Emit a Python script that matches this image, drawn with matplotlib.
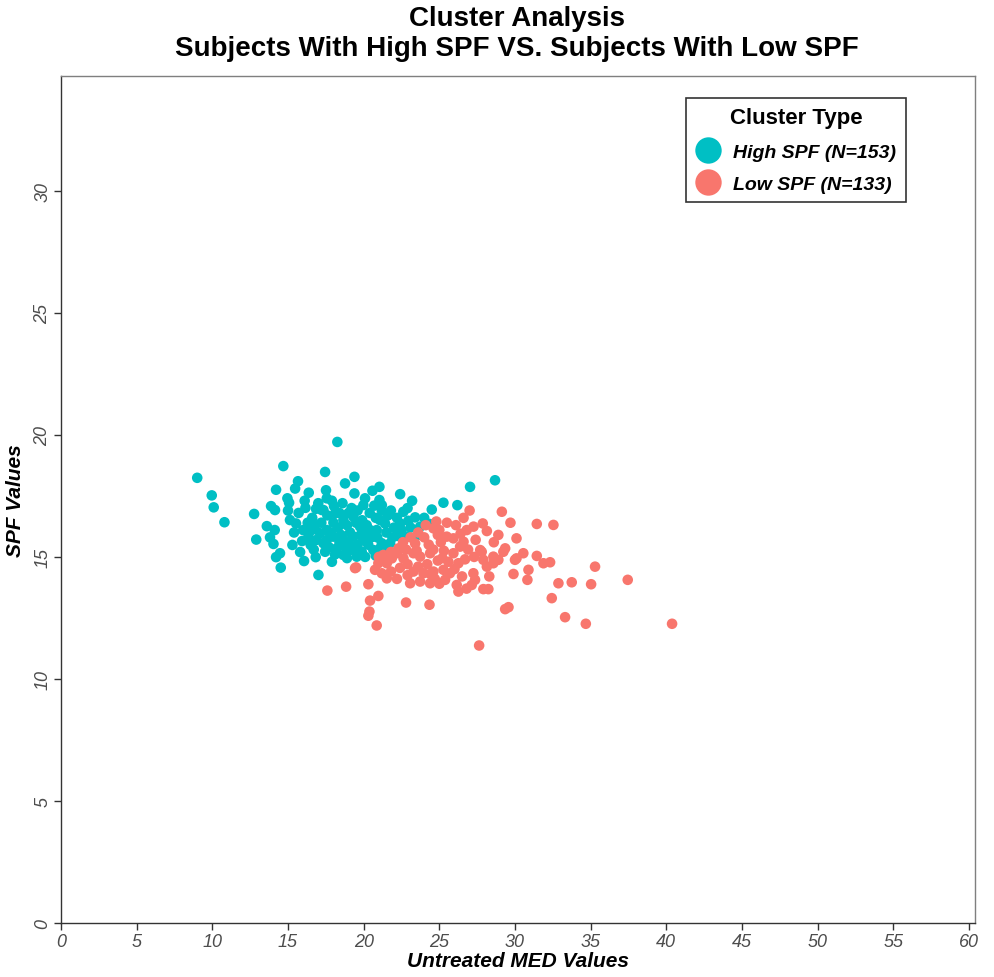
import matplotlib
matplotlib.use("Agg")
import matplotlib.pyplot as plt
from matplotlib.lines import Line2D

plt.rcParams['font.family'] = ['Liberation Sans', 'DejaVu Sans']

# cluster data (MED, SPF)
high_med = [9.0, 9.96, 10.09, 10.8, 14.69, 17.45, 14.21, 15.66, 15.47, 16.37,
            17.51, 17.56, 14.96, 15.07, 13.88, 14.14, 12.76, 16.15, 16.85, 17.34,
            15.13, 15.53, 13.6, 14.12, 13.81, 12.9, 14.04, 15.29, 16.24, 16.57,
            16.35, 15.93, 16.5, 17.12, 17.56, 14.47, 14.21, 16.83, 16.06, 14.52,
            17.01, 18.26, 19.39, 18.77, 19.39, 21.04, 20.58, 20.09, 22.41, 21.04,
            21.2, 19.98, 18.04, 25.27, 24.5, 22.62, 23.4, 22.95, 23.73, 24.35,
            22.41, 21.08, 21.41, 19.76, 19.32, 18.66, 18.11, 17.23, 20.42, 20.86,
            22.19, 22.85, 21.75, 21.2, 19.98, 19.32, 18.66, 17.99, 17.56, 17.34,
            18.22, 19.1, 19.87, 20.64, 21.08, 17.45, 18.66, 19.54, 27.03, 28.68,
            26.19,
            18.3, 18.5, 18.9, 19.1, 19.5, 19.8, 20.2, 20.5, 20.8, 21.5,
            18.0, 17.8, 17.7, 18.4, 19.0, 19.6, 20.3, 20.9, 21.6, 22.0,
            17.2, 16.8, 16.9, 16.6, 17.9, 18.6, 19.2, 19.6, 20.4, 20.7,
            21.8, 22.2, 23.1, 23.6, 22.5, 18.1, 18.9, 19.4, 20.1, 20.8,
            21.4, 16.3, 16.0, 15.7, 16.1, 15.0, 17.0, 18.4, 19.0, 19.9,
            21.2, 17.6, 18.8, 20.0, 21.9, 15.8, 15.4, 16.7, 22.9, 24.0,
            23.2, 17.9]
high_spf = [18.24, 17.52, 17.03, 16.42, 18.72, 18.48, 17.75, 18.1, 17.8, 17.63,
            17.73, 17.4, 17.4, 17.22, 17.08, 16.92, 16.76, 17.01, 16.97, 16.92,
            16.51, 16.37, 16.26, 16.1, 15.8, 15.71, 15.53, 15.49, 16.17, 16.1,
            15.83, 15.65, 15.49, 15.97, 15.69, 15.15, 14.99, 14.99, 14.83, 14.56,
            14.26, 19.71, 18.28, 18.01, 17.6, 17.87, 17.71, 17.4, 17.57, 17.33,
            17.12, 17.12, 17.08, 17.22, 16.94, 16.85, 16.62, 16.48, 16.24, 16.35,
            16.37, 16.51, 16.37, 16.24, 16.65, 16.51, 16.78, 16.92, 16.1, 16.1,
            15.86, 15.83, 15.56, 15.56, 15.69, 15.83, 15.69, 15.83, 16.1, 15.56,
            15.35, 15.28, 15.21, 15.28, 15.35, 15.21, 15.08, 15.01, 17.87, 18.14,
            17.12,
            16.2, 15.9, 16.3, 16.0, 16.4, 15.9, 16.3, 15.8, 16.6, 16.0,
            16.4, 16.0, 15.4, 15.6, 15.6, 15.5, 15.5, 15.8, 16.7, 16.2,
            16.4, 16.3, 15.7, 16.6, 17.3, 17.2, 17.0, 16.9, 16.8, 17.1,
            16.9, 16.6, 16.2, 15.9, 16.1, 15.1, 14.95, 15.3, 15.0, 15.05,
            15.25, 16.4, 16.1, 16.8, 17.3, 16.9, 17.2, 16.8, 16.8, 16.5,
            16.9, 16.7, 15.4, 16.0, 15.8, 15.2, 16.0, 15.3, 17.0, 16.6,
            17.3, 14.8]

low_med = [29.13, 31.44, 32.54, 26.6, 27.87, 28.14, 27.26, 26.81, 25.49, 25.93,
           26.6, 26.37, 30.1, 29.35, 27.7, 30.55, 31.44, 25.93, 27.8, 28.57,
           29.23, 30.0, 31.88, 32.32, 35.29, 30.89, 30.82, 32.87, 33.75, 35.03,
           37.45, 32.43, 33.31, 34.68, 40.38, 29.35, 29.57, 27.63, 27.25, 27.36,
           27.14, 27.91, 28.24, 26.15, 26.26, 25.27, 25.7, 25.38, 27.91, 28.14,
           28.57, 28.9, 26.26, 17.6, 18.84, 19.43, 20.31, 20.97, 20.42, 20.38,
           20.31, 20.86, 22.8, 24.35, 23.07, 23.73, 24.39, 23.29, 23.95, 24.61,
           20.75, 21.2, 21.53, 20.97, 21.53, 21.86, 21.3, 22.19, 22.63, 23.29,
           23.73, 24.39, 30.1, 24.61,
           24.0, 24.9, 23.4, 24.3, 25.1, 22.8, 22.3, 21.8, 23.5, 24.6,
           25.3, 25.0, 24.1, 23.6, 24.9, 25.2, 24.2, 25.6, 26.0, 24.7,
           25.0, 24.4, 23.6, 22.9, 22.4, 21.8, 22.2, 22.9, 26.7, 26.9,
           27.3, 26.4, 26.1, 25.5, 27.0, 26.5, 26.8, 28.6, 28.9, 29.7,
           27.4, 21.4, 22.6, 23.1, 24.8, 29.9, 28.3, 21.0, 19.5]
low_spf = [16.85, 16.35, 16.31, 16.6, 16.37, 16.06, 16.24, 16.1, 15.83, 15.76,
           15.62, 15.42, 15.76, 15.35, 15.28, 15.15, 15.04, 15.15, 15.21, 15.01,
           15.21, 14.88, 14.74, 14.78, 14.6, 14.47, 14.06, 13.92, 13.96, 13.88,
           14.06, 13.31, 12.53, 12.26, 12.26, 12.86, 12.94, 11.37, 14.33, 14.06,
           13.85, 13.68, 13.68, 13.85, 13.58, 14.47, 14.33, 14.06, 14.88, 14.6,
           14.74, 14.88, 14.74, 13.62, 13.78, 14.54, 13.88, 13.4, 13.21, 12.76,
           12.59, 12.19, 13.13, 13.04, 13.92, 13.99, 13.92, 14.4, 14.33, 14.4,
           14.47, 14.33, 14.12, 14.74, 14.74, 14.94, 15.08, 15.15, 14.94, 15.15,
           15.01, 15.15, 14.94, 16.17,
           15.8, 15.9, 15.55, 15.5, 15.6, 15.3, 15.35, 15.2, 15.25, 15.3,
           15.25, 16.1, 16.3, 16.0, 14.85, 14.95, 14.7, 14.8, 14.5, 14.1,
           13.9, 14.3, 14.6, 14.7, 14.55, 14.4, 14.1, 14.25, 14.9, 15.3,
           15.0, 15.95, 16.3, 16.4, 16.9, 14.2, 13.7, 15.6, 15.9, 16.4,
           15.7, 14.9, 15.6, 15.8, 16.45, 14.3, 14.2, 15.0, 14.57]

teal = '#00BFC4'
salmon = '#F8766D'

fig = plt.figure(figsize=(9.94, 9.78), dpi=100)
ax = fig.add_axes([0.0614, 0.0552, 0.9195, 0.866])

ax.scatter(high_med, high_spf, s=58, color=teal, edgecolors='none', zorder=3)
ax.scatter(low_med, low_spf, s=58, color=salmon, edgecolors='none', zorder=3)

ax.set_xlim(0, 60.4)
ax.set_ylim(0, 34.7)
ax.set_xticks(range(0, 61, 5))
ax.set_yticks(range(0, 31, 5))

for side in ['top', 'right', 'left', 'bottom']:
    ax.spines[side].set_color('#7f7f7f')
    ax.spines[side].set_linewidth(1.0)
ax.spines['left'].set_color('#333333')
ax.spines['bottom'].set_color('#333333')

ax.tick_params(direction='out', length=5, width=1, color='#333333',
               labelcolor='#4d4d4d', labelsize=13, pad=2)
for lab in ax.get_xticklabels():
    lab.set_fontstyle('italic')
for lab in ax.get_yticklabels():
    lab.set_fontstyle('italic')
    lab.set_rotation(90)
    lab.set_va('center')

ax.set_xlabel('Untreated MED Values', fontsize=15, fontweight='bold',
              fontstyle='italic', labelpad=1)
ax.set_ylabel('SPF Values', fontsize=15, fontweight='bold',
              fontstyle='italic', labelpad=7)

fig.text(0.52, 0.994, 'Cluster Analysis', ha='center', va='top',
         fontsize=20, fontweight='bold')
fig.text(0.52, 0.963, 'Subjects With High SPF VS. Subjects With Low SPF',
         ha='center', va='top', fontsize=20, fontweight='bold')

handles = [Line2D([], [], marker='o', linestyle='none', markersize=19,
                  markerfacecolor=teal, markeredgecolor='none'),
           Line2D([], [], marker='o', linestyle='none', markersize=19,
                  markerfacecolor=salmon, markeredgecolor='none')]
leg = ax.legend(handles, ['High SPF (N=153)', 'Low SPF (N=133)'],
                title='Cluster Type', loc='upper right',
                bbox_to_anchor=(0.935, 0.986), frameon=True, fancybox=False,
                edgecolor='black', borderpad=0.5, handletextpad=0.7,
                labelspacing=0.75, handlelength=1.2,
                prop={'size': 14, 'weight': 'bold', 'style': 'italic'})
leg.get_frame().set_linewidth(1.2)
leg.get_title().set_fontsize(16)
leg.get_title().set_fontweight('bold')

fig.savefig('out.png', dpi=100)
